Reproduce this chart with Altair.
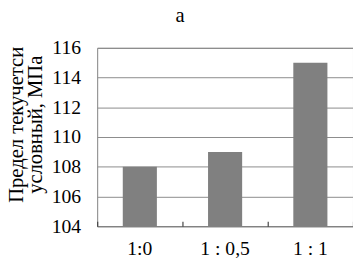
import altair as alt
import pandas as pd

categories = ["1:0", "1 : 0,5", "1 : 1"]
values = [108, 109, 115]
y_ticks = [104, 106, 108, 110, 112, 114, 116]
panel_label = "a"

df = pd.DataFrame({"cat": categories, "val": values})
FONT = "Liberation Serif"

xscale = alt.Scale(paddingInner=0, paddingOuter=0)

bars = alt.Chart(df).mark_bar(color="#808080", clip=True,
                              width=alt.RelativeBandSize(0.4)).encode(
    x=alt.X("cat:N", sort=categories, scale=xscale,
            axis=alt.Axis(orient="bottom", title=None, labelAngle=0, ticks=False,
                          domain=True, domainColor="#808080", labelPadding=13,
                          labelFont=FONT, labelFontSize=20, labelColor="black",
                          grid=False)),
    y=alt.Y("val:Q", scale=alt.Scale(domain=[104, 116], zero=False, nice=False),
            axis=alt.Axis(values=y_ticks, title=["Предел текучетси", "условный, МПа"],
                          ticks=False, domain=False, grid=True, gridColor="#8a8a8a",
                          labelPadding=17, labelFont=FONT, labelFontSize=20,
                          labelColor="black", titleFont=FONT, titleFontSize=21,
                          titleFontWeight="normal", titleColor="black",
                          titleLineHeight=19, titleBaseline="alphabetic",
                          titleX=-76, titleY=78, titleAngle=-90)),
    y2=alt.datum(104),
)

ticks = alt.Chart(df).mark_bar(opacity=0).encode(
    x=alt.X("cat:N", sort=categories, scale=xscale,
            axis=alt.Axis(orient="bottom", title=None, labels=False, domain=False,
                          ticks=True, tickSize=5, tickColor="#444444", tickWidth=1.2,
                          offset=-5, grid=False, tickBand="extent")),
)

label = alt.Chart(df).mark_bar(opacity=0).encode(
    x=alt.X("cat:N", sort=categories, scale=xscale,
            axis=alt.Axis(orient="top", title=panel_label, labels=False, domain=False,
                          ticks=False, grid=False, titleFont=FONT, titleFontSize=21,
                          titleFontWeight="normal", titleColor="black",
                          titleBaseline="alphabetic", titleAlign="center",
                          titleX=84, titleY=-27)),
)

chart = alt.layer(bars, ticks, label).resolve_axis(x="independent").properties(
    width=261, height=182,
    autosize=alt.AutoSizeParams(type="none"),
    padding={"left": 91, "top": 38, "right": 0, "bottom": 40},
).configure_view(stroke="#808080", strokeWidth=1)

chart.save("out.html", embed_options={"renderer": "svg", "actions": False})
